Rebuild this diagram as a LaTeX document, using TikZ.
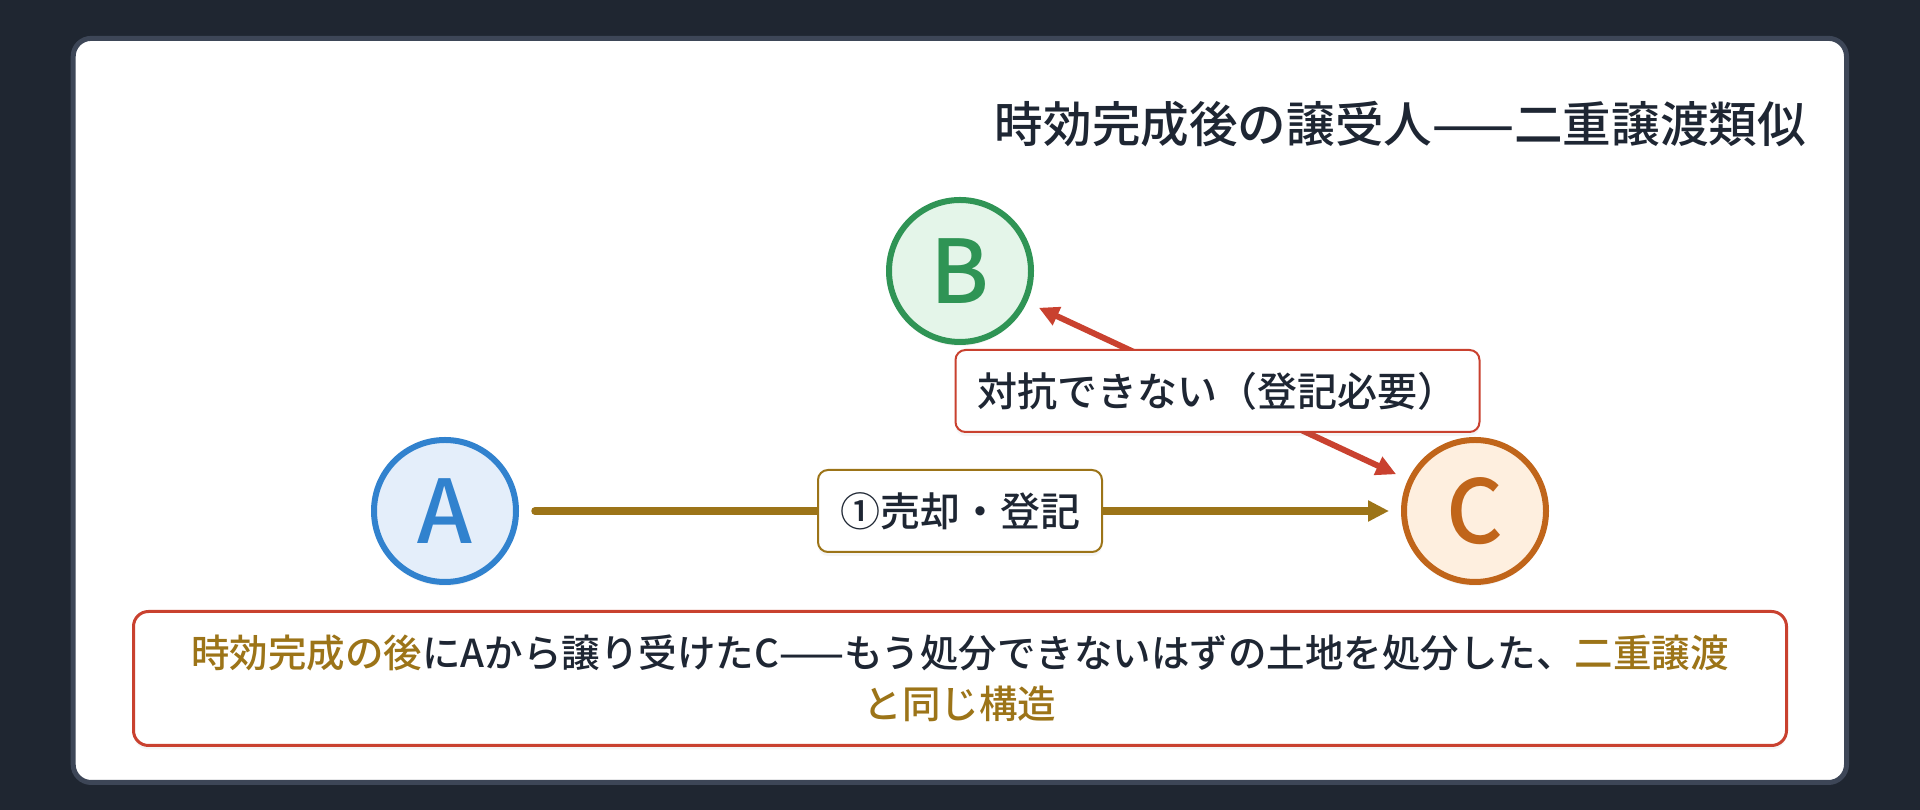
\documentclass[tikz,border=0pt]{standalone}
\usepackage{fontspec}
\setmainfont{Noto Sans CJK JP}[UprightFont=* Medium, BoldFont=* Bold]
\usepackage{tikz}
\usetikzlibrary{arrows.meta,shadows}

\definecolor{bgdark}{HTML}{1F2631}
\definecolor{cardedge}{HTML}{3D4657}
\definecolor{ink}{HTML}{1E2633}
\definecolor{gold}{HTML}{9C7418}
\definecolor{warn}{HTML}{C9412F}
\definecolor{blueA}{HTML}{3182CE}
\definecolor{blueAfill}{HTML}{E4EEFA}
\definecolor{greenB}{HTML}{2F9455}
\definecolor{greenBfill}{HTML}{E4F5E9}
\definecolor{orangeC}{HTML}{C0651A}
\definecolor{orangeCfill}{HTML}{FEEFDF}

\begin{document}
\begin{tikzpicture}[x=1pt, y=1pt,
        every node/.append style={inner sep=0pt},
        softshadow/.style={drop shadow={shadow xshift=0pt, shadow yshift=-4pt, opacity=0.08}},
        person/.style={circle, draw, line width=6pt, minimum size=142pt, softshadow,
            font=\fontsize{88}{88}\selectfont},
        tag/.style={draw, fill=white, line width=2pt, rounded corners=10pt, minimum height=82pt,
            inner xsep=22pt, text=ink, softshadow, font=\fontsize{40}{48}\selectfont},
        sale/.style={draw=gold, line width=7.5pt, line cap=round, shorten <=16pt, shorten >=12pt,
            -{Triangle[length=21pt, width=20pt]}},
        block/.style={draw=warn, line width=6pt, shorten <=13pt, shorten >=13pt,
            {Triangle[length=20pt, width=19pt]}-{Triangle[length=20pt, width=19pt]}}]
        \useasboundingbox (0,0) rectangle (1920,810);
        \fill [bgdark] (0,0) rectangle (1920,810);
        \draw [cardedge, line width=5pt, fill=white, rounded corners=18pt] (73.2,27.5) rectangle (1846.5,771.6);

        \node [anchor=east, text=ink, font=\fontsize{48.6}{48.6}\selectfont] (title) at (1806,686) {時効完成後の譲受人——二重譲渡類似};

        \node [person, draw=blueA, fill=blueAfill, text=blueA] (A) at (445,299) {A};
        \node [person, draw=greenB, fill=greenBfill, text=greenB] (B) at (960,539) {B};
        \node [person, draw=orangeC, fill=orangeCfill, text=orangeC] (C) at (1475,299) {C};

        \draw (A) edge [sale] node [tag, draw=gold] {①売却・登記} (C);
        \draw (B) edge [block] node [tag, draw=warn] {対抗できない（登記必要）} (C);

        \node [draw=warn, fill=white, line width=3pt, rounded corners=15pt, softshadow,
            minimum width=1653pt, minimum height=134pt, align=center, text=ink,
            font=\fontsize{38.5}{51}\selectfont] (note) at (960,131.5)
            {{\color{gold}時効完成の後}にAから譲り受けたC——もう処分できないはずの土地を処分した、{\color{gold}二重譲渡}\\{\color{gold}と同じ構造}};
    \end{tikzpicture}
\end{document}
